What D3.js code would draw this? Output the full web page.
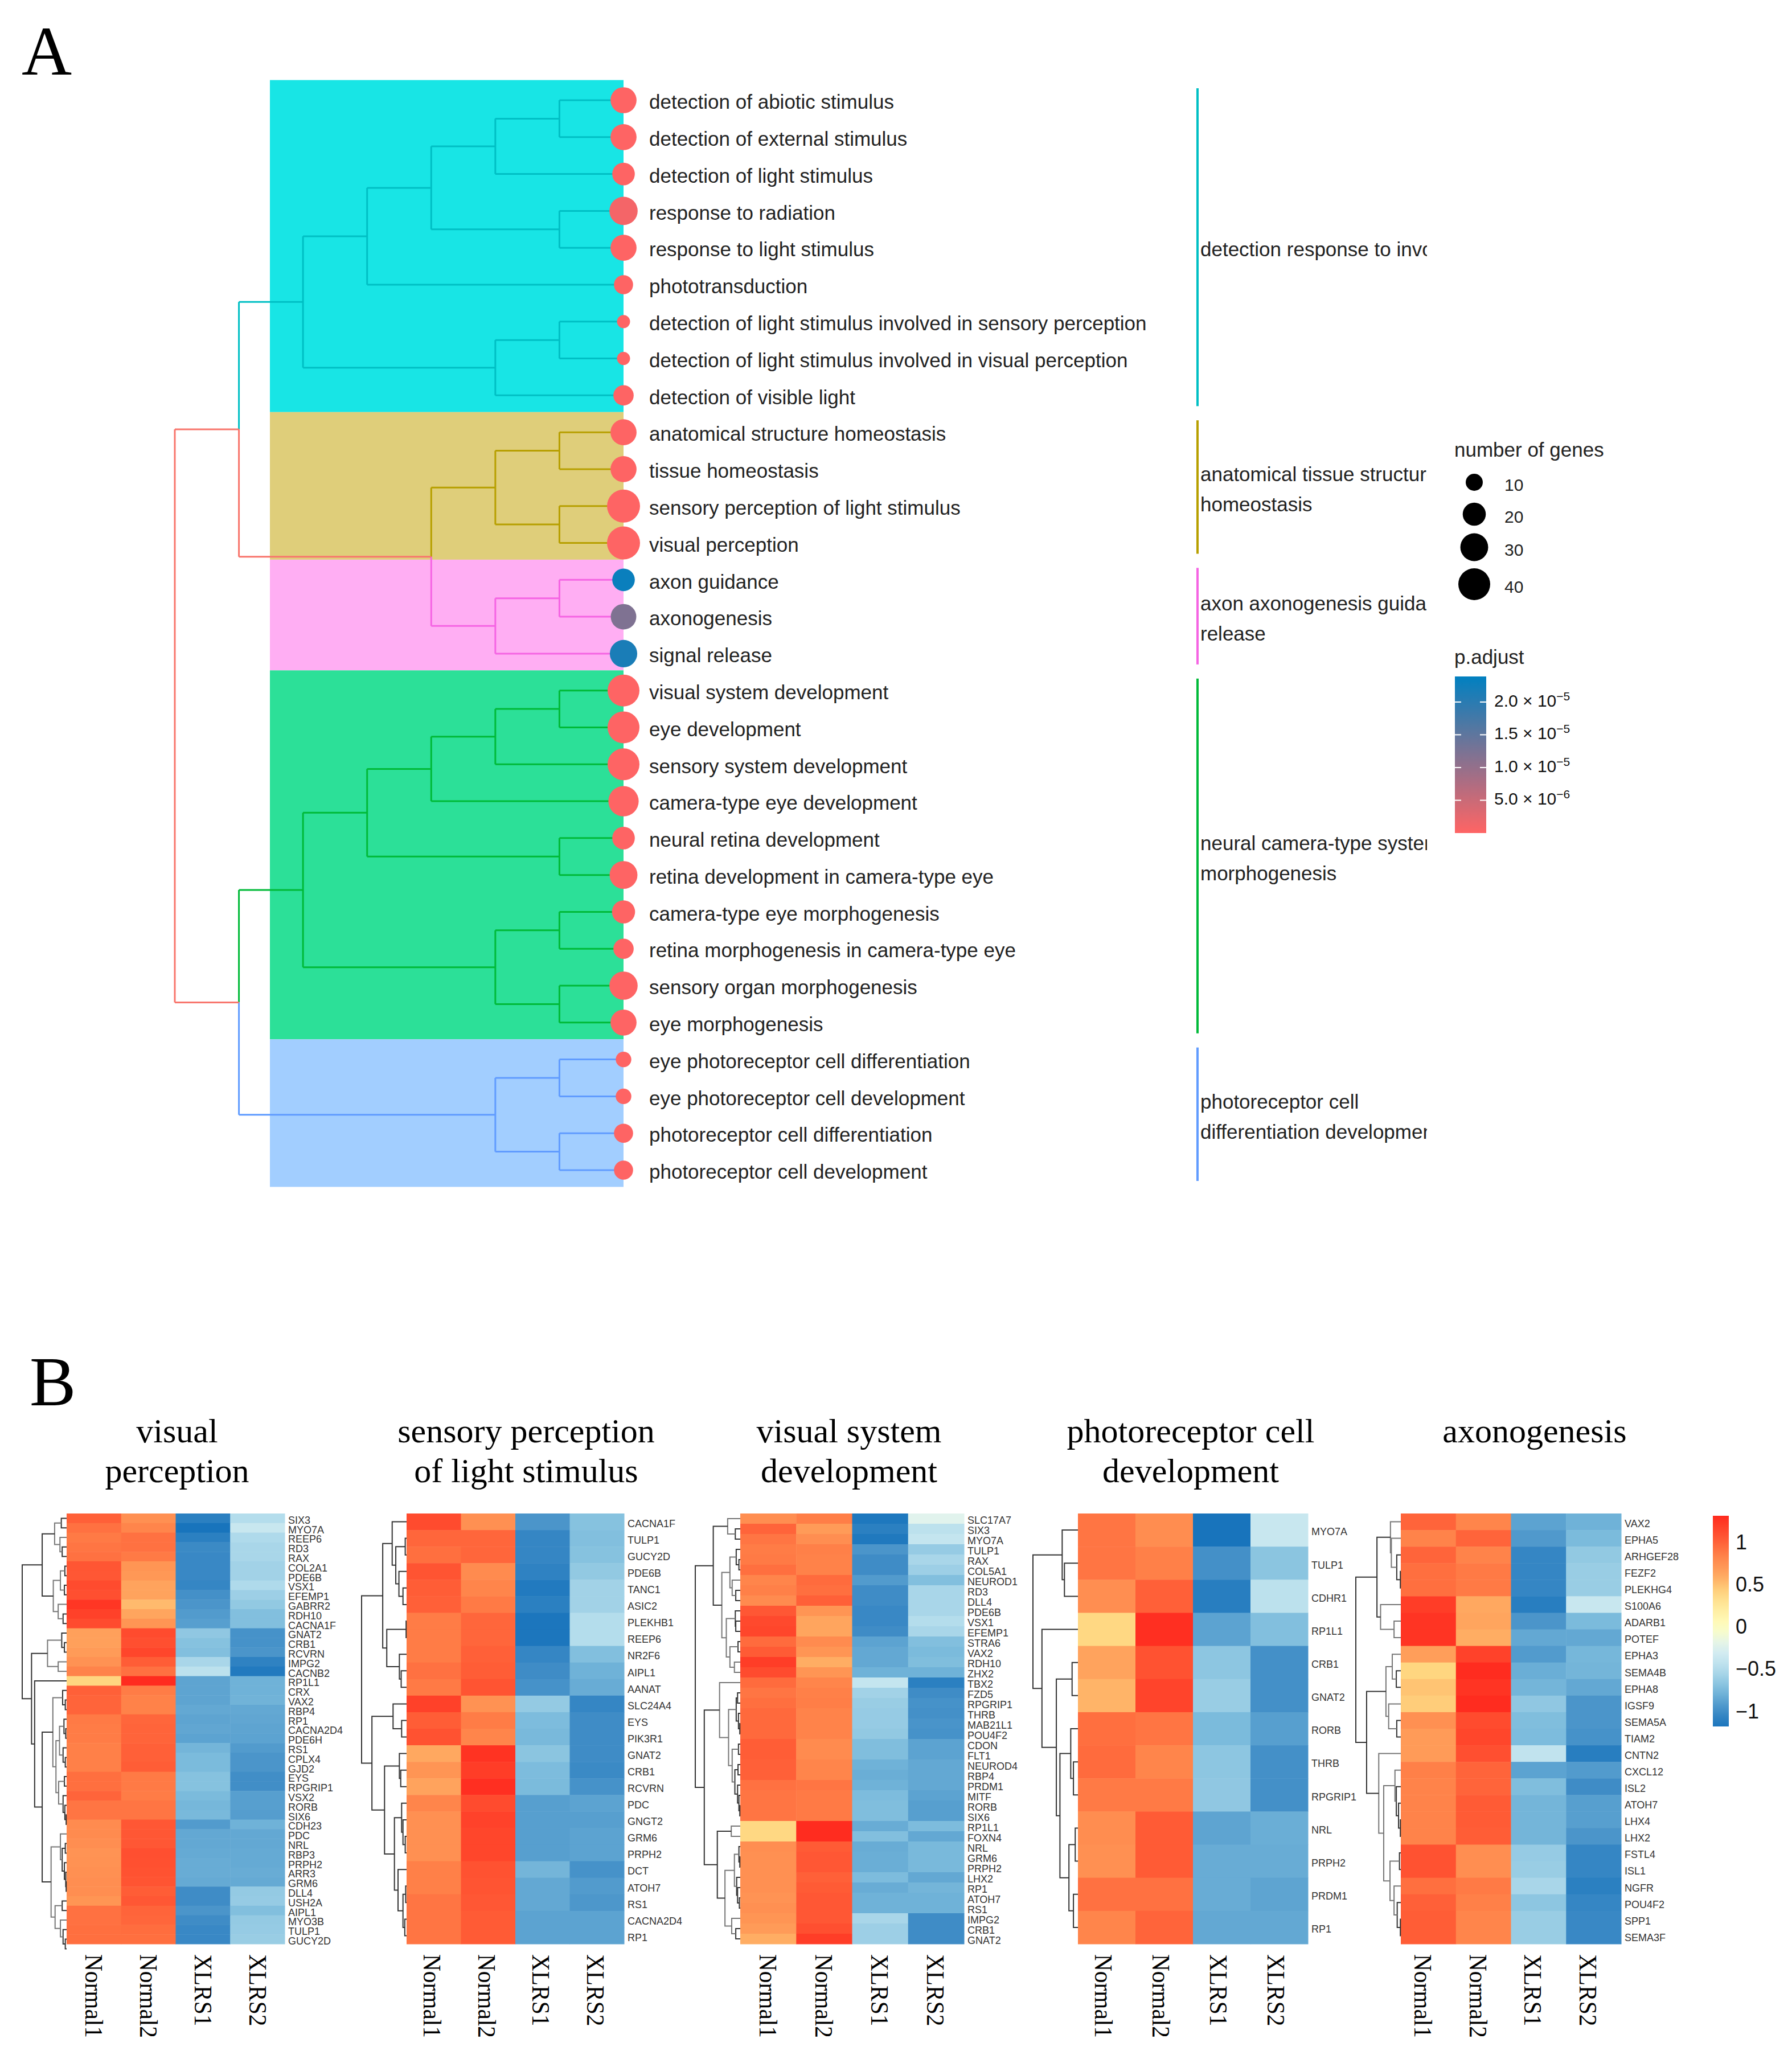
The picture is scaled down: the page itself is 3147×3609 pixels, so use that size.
<!DOCTYPE html>
<html><head><meta charset="utf-8">
<script src="https://cdn.jsdelivr.net/npm/d3@7"></script>
<style>html,body{margin:0;background:#fff}svg{display:block}</style></head><body>
<script>
// ---------- Panel A data ----------
const termLabels=["detection of abiotic stimulus","detection of external stimulus","detection of light stimulus","response to radiation","response to light stimulus","phototransduction","detection of light stimulus involved in sensory perception","detection of light stimulus involved in visual perception","detection of visible light","anatomical structure homeostasis","tissue homeostasis","sensory perception of light stimulus","visual perception","axon guidance","axonogenesis","signal release","visual system development","eye development","sensory system development","camera-type eye development","neural retina development","retina development in camera-type eye","camera-type eye morphogenesis","retina morphogenesis in camera-type eye","sensory organ morphogenesis","eye morphogenesis","eye photoreceptor cell differentiation","eye photoreceptor cell development","photoreceptor cell differentiation","photoreceptor cell development"];
const geneCounts=[26,26,19,31,26,13,5,5,15,26,26,43,43,19,25,29,40,40,40,36,19,30,20,15,31,26,8,8,13,13];
const pAdjust=[1e-7,1e-7,1e-7,1e-6,1e-7,1e-7,1e-7,1e-7,1e-7,1e-7,1e-7,1e-7,1e-7,2.3e-5,1.2e-5,2.15e-5,1e-7,1e-7,1e-7,1e-7,1e-7,1e-7,1e-7,1e-7,1e-7,1e-7,1e-7,1e-7,1e-7,1e-7];
const clusterRows=[[0,8],[9,12],[13,15],[16,25],[26,29]];
const clusterFill=["#18E5E5","#DFCE7A","#FFAEF3","#2CE098","#A2CEFF"];
const clusterLine=["#00BFC4","#B79F00","#F564E3","#00BA38","#619CFF"];
const clusterNames=[["detection response to involved"],["anatomical tissue structure","homeostasis"],["axon axonogenesis guidance","release"],["neural camera-type system","morphogenesis"],["photoreceptor cell","differentiation development"]];
const clusterTrees=[
 [5,[4,[3,[2,[1,0,0],0],[1,0,0]],0],[2,[1,0,0],0]],
 [2,[1,0,0],[1,0,0]],
 [2,[1,0,0],0],
 [5,[4,[3,[2,[1,0,0],0],0],[1,0,0]],[2,[1,0,0],[1,0,0]]],
 [2,[1,0,0],[1,0,0]]
];
const sizeTicks=[10,20,30,40];
const pTicks=[2e-5,1.5e-5,1e-5,5e-6];
const pTickLabels=[["2.0","−5"],["1.5","−5"],["1.0","−5"],["5.0","−6"]];

// ---------- Panel B data ----------
const sampleNames=["Normal1","Normal2","XLRS1","XLRS2"];
const panelTitles=[["visual","perception"],["sensory perception","of light stimulus"],["visual system","development"],["photoreceptor cell","development"],["axonogenesis"]];
const genes1=["SIX3","MYO7A","REEP6","RD3","RAX","COL2A1","PDE6B","VSX1","EFEMP1","GABRR2","RDH10","CACNA1F","GNAT2","CRB1","RCVRN","IMPG2","CACNB2","RP1L1","CRX","VAX2","RBP4","RP1","CACNA2D4","PDE6H","RS1","CPLX4","GJD2","EYS","RPGRIP1","VSX2","RORB","SIX6","CDH23","PDC","NRL","RBP3","PRPH2","ARR3","GRM6","DLL4","USH2A","AIPL1","MYO3B","TULP1","GUCY2D"];
const values1=[[1.0,.75,-1.1,-.5],[.92,.82,-1.2,-.38],[.88,.92,-1.1,-.52],[.9,.92,-1.02,-.55],[.92,.88,-1.03,-.55],[1.06,.72,-1.03,-.58],[1.05,.7,-1.03,-.58],[1.12,.63,-1.05,-.52],[1.1,.63,-.98,-.6],[1.24,.52,-.95,-.65],[1.18,.62,-.92,-.72],[1.12,.72,-.9,-.72],[.65,1.12,-.66,-.97],[.65,1.1,-.7,-.97],[.68,1.15,-.72,-.95],[.74,1.02,-.55,-1.08],[.83,.92,-.45,-1.15],[.4,1.3,-.87,-.8],[1.0,.87,-.87,-.8],[.98,.84,-.87,-.79],[.98,.84,-.85,-.85],[.88,.97,-.87,-.86],[.87,.98,-.86,-.87],[.87,.98,-.88,-.88],[.85,1.0,-.78,-.92],[.85,1.0,-.75,-.95],[.85,1.02,-.75,-.95],[.93,.88,-.7,-.99],[.93,.88,-.7,-.99],[.98,.87,-.75,-.9],[.9,.9,-.77,-.9],[.9,.9,-.76,-.91],[.78,1.05,-.92,-.8],[.78,1.05,-.85,-.85],[.76,1.05,-.85,-.85],[.73,1.1,-.84,-.84],[.74,1.09,-.83,-.84],[.75,1.08,-.83,-.83],[.76,1.07,-.84,-.84],[.76,1.02,-1.0,-.64],[.72,1.05,-1.0,-.63],[.92,.98,-.95,-.72],[.92,.97,-1.0,-.64],[.93,.94,-1.03,-.63],[.93,.93,-1.03,-.62]];
const tree1=[1,[.55,[.27,[.12,0,0],[.15,0,[.1,0,0]]],[.3,[.14,[.04,0,0],[.05,0,0]],[.19,0,[.08,0,0]]]],[.79,[.43,[.11,0,[.05,0,0]],[.19,0,0]],[.72,0,[.55,[.31,[.09,0,[.03,0,0]],[.24,[.16,[.06,0,[.02,0,0]],[.08,0,[.03,0,0]]],[.18,[.05,0,0],[.08,0,[.04,0,[.01,0,0]]]]]],[.35,[.14,0,[.1,[.03,0,0],[.05,0,[.02,0,[.01,0,0]]]]],[.26,[.1,0,0],[.14,0,[.08,0,[.03,0,0]]]]]]]]];
const genes2=["CACNA1F","TULP1","GUCY2D","PDE6B","TANC1","ASIC2","PLEKHB1","REEP6","NR2F6","AIPL1","AANAT","SLC24A4","EYS","PIK3R1","GNAT2","CRB1","RCVRN","PDC","GNGT2","GRM6","PRPH2","DCT","ATOH7","RS1","CACNA2D4","RP1"];
const values2=[[1.12,.75,-.95,-.7],[.97,.97,-1.05,-.72],[.93,.97,-1.05,-.7],[1.07,.78,-1.08,-.65],[1.02,.82,-1.15,-.58],[1.0,.88,-1.1,-.58],[.87,.97,-1.18,-.5],[.87,.97,-1.18,-.5],[.87,1.0,-1.05,-.72],[.92,1.02,-1.0,-.8],[.88,1.07,-.97,-.83],[1.18,.74,-.64,-1.05],[1.02,.87,-.74,-1.0],[1.08,.82,-.76,-1.0],[.6,1.26,-.68,-1.0],[.72,1.2,-.74,-1.02],[.63,1.28,-.75,-.97],[.82,1.12,-.9,-.88],[.75,1.17,-.9,-.9],[.75,1.15,-.9,-.88],[.75,1.15,-.9,-.88],[.85,1.08,-.78,-.97],[.85,1.07,-.85,-.92],[.9,1.05,-.85,-.94],[.9,1.03,-.88,-.88],[.9,1.03,-.88,-.88]];
const tree2=[1,[.53,[.32,0,[.24,[.03,0,0],[.17,0,[.08,0,0]]]],[.44,[.01,0,0],[.16,0,[.12,0,0]]]],[.77,[.3,0,[.11,0,0]],[.49,[.16,0,[.13,0,0]],[.27,[.11,0,[.08,0,[.03,0,0]]],[.19,0,[.08,[.02,0,0],[.04,0,0]]]]]]];
const genes3=["SLC17A7","SIX3","MYO7A","TULP1","RAX","COL5A1","NEUROD1","RD3","DLL4","PDE6B","VSX1","EFEMP1","STRA6","VAX2","RDH10","ZHX2","TBX2","FZD5","RPGRIP1","THRB","MAB21L1","POU4F2","CDON","FLT1","NEUROD4","RBP4","PRDM1","MITF","RORB","SIX6","RP1L1","FOXN4","NRL","GRM6","PRPH2","LHX2","RP1","ATOH7","RS1","IMPG2","CRB1","GNAT2"];
const values3=[[.76,.86,-1.17,-.22],[.98,.68,-1.1,-.45],[.9,.76,-1.16,-.4],[.87,.85,-.95,-.63],[.88,.84,-1.0,-.55],[.93,.84,-1.0,-.6],[.82,.95,-.92,-.72],[.85,.93,-1.0,-.55],[.78,1.0,-1.0,-.55],[1.05,.72,-1.03,-.55],[1.13,.62,-1.03,-.5],[1.15,.62,-1.0,-.55],[.95,.78,-.88,-.72],[1.03,.72,-.85,-.75],[1.2,.58,-.85,-.73],[1.12,.72,-.8,-.8],[.95,.82,-.4,-1.1],[.9,.85,-.58,-1.0],[.93,.86,-.62,-.97],[.96,.83,-.63,-.98],[.96,.83,-.63,-.96],[.96,.83,-.65,-.97],[1.02,.78,-.73,-.88],[1.02,.78,-.73,-.88],[1.0,.82,-.8,-.85],[1.0,.82,-.82,-.85],[.92,.9,-.8,-.85],[.9,.88,-.74,-.88],[.9,.88,-.73,-.9],[.9,.88,-.73,-.9],[.38,1.3,-.83,-.74],[.38,1.3,-.72,-.85],[.76,1.03,-.83,-.76],[.75,1.05,-.82,-.76],[.75,1.05,-.82,-.76],[.75,1.0,-.74,-.85],[.75,1.03,-.83,-.78],[.73,1.05,-.8,-.8],[.75,1.05,-.8,-.8],[.72,1.05,-.55,-1.0],[.68,1.1,-.6,-1.0],[.58,1.2,-.6,-1.0]];
const tree3=[1,[.6,[.28,0,[.11,0,0]],[.41,[.23,[.09,0,[.03,0,0]],[.18,0,[.1,0,0]]],[.31,[.11,0,[.1,0,0]],[.23,[.05,0,0],[.13,0,0]]]]],[.8,[.46,0,[.26,[.09,[.06,0,0],[.04,0,[.01,0,0]]],[.18,[.04,0,0],[.12,[.05,0,0],[.06,0,[.03,0,[.01,0,0]]]]]]],[.51,[.2,0,0],[.34,[.13,[.03,0,[.01,0,0]],[.08,0,[.06,0,[.02,0,0]]]],[.19,0,[.1,0,0]]]]]];
const genes4=["MYO7A","TULP1","CDHR1","RP1L1","CRB1","GNAT2","RORB","THRB","RPGRIP1","NRL","PRPH2","PRDM1","RP1"];
const values4=[[.9,.77,-1.2,-.38],[.9,.85,-.98,-.68],[.76,1.0,-1.12,-.45],[.38,1.28,-.88,-.72],[.63,1.08,-.67,-.98],[.55,1.16,-.62,-.98],[.93,.9,-.75,-.9],[.95,.82,-.67,-.98],[.88,.88,-.66,-.98],[.77,1.03,-.87,-.82],[.75,1.03,-.83,-.83],[.92,.92,-.83,-.87],[.82,.98,-.85,-.85]];
const tree4=[1,[.35,0,[.3,0,0]],[.8,0,[.48,[.13,0,0],[.4,[.16,0,[.1,0,0]],[.2,[.06,0,0],[.1,0,0]]]]]];
const genes5=["VAX2","EPHA5","ARHGEF28","FEZF2","PLEKHG4","S100A6","ADARB1","POTEF","EPHA3","SEMA4B","EPHA8","IGSF9","SEMA5A","TIAM2","CNTN2","CXCL12","ISL2","ATOH7","LHX4","LHX2","FSTL4","ISL1","NGFR","POU4F2","SPP1","SEMA3F"];
const values5=[[.98,.82,-.88,-.8],[.83,.98,-.93,-.75],[.98,.83,-1.05,-.65],[.93,.88,-1.05,-.62],[.93,.88,-1.05,-.62],[1.2,.6,-1.12,-.38],[1.25,.62,-.95,-.75],[1.25,.58,-.85,-.85],[.66,1.17,-.92,-.77],[.4,1.3,-.82,-.78],[.48,1.25,-.78,-.85],[.44,1.3,-.66,-.95],[.75,1.12,-.73,-.95],[.68,1.15,-.74,-.97],[.68,1.1,-.42,-1.12],[.85,.98,-.88,-.92],[.83,.98,-.73,-1.0],[.83,1.03,-.78,-.9],[.83,1.03,-.78,-.9],[.83,1.02,-.78,-.95],[1.08,.76,-.63,-1.05],[1.08,.76,-.62,-1.05],[.93,.88,-.55,-1.1],[1.0,.85,-.67,-1.05],[1.02,.82,-.62,-1.03],[1.02,.82,-.62,-1.03]];
const tree5=[1,[.53,[.23,0,[.21,0,[.09,0,[.01,0,0]]]],[.45,0,[.15,0,0]]],[.76,[.33,[.19,0,[.1,0,0]],[.27,0,[.09,0,0]]],[.49,0,[.38,[.13,0,[.1,0,[.05,0,[.01,0,0]]]],[.24,[.03,0,0],[.15,0,[.08,0,[.01,0,0]]]]]]]];
const heatTicks=[1,.5,0,-.5,-1];
const heatStops=[[-1.2,"#1874BC"],[-1,"#3F8CC6"],[-.75,"#7BBBDC"],[-.5,"#B4DDEC"],[-.25,"#DDF1F3"],[0,"#FFFFC0"],[.25,"#FFE89A"],[.4,"#FFD680"],[.6,"#FFA860"],[.85,"#FF8048"],[1,"#FF6038"],[1.31,"#FF2A1E"]];

// ---------- Drawing ----------
const W=3147,H=3609,SANS="'Liberation Sans',Arial,sans-serif",SERIF="'Liberation Serif','Times New Roman',serif";
const svg=d3.select("body").append("svg").attr("width",W).attr("height",H).attr("viewBox",[0,0,W,H]);
const defs=svg.append("defs");
svg.append("rect").attr("width",W).attr("height",H).attr("fill","#fff");
const letter=(t,x,y)=>svg.append("text").attr("x",x).attr("y",y).attr("font-family",SERIF).attr("font-size",122).attr("fill","#000").text(t);
letter("A",38,131);letter("B",52,2468);

// Panel A
const yRow=d3.scaleLinear().domain([0,29]).range([176,2055]);
const xLevel=d3.scaleLinear().domain([0,7]).range([1095,307]);
const rScale=d3.scaleRadial().domain([10,40]).range([15,28]);
const pMax=2.39e-5;
const pColor=d3.scaleLinear().domain([0,pMax]).range(["#FF6464","#0080C0"]);
const panelA=svg.append("g");
panelA.selectAll("rect.band").data(clusterRows).join("rect").attr("class","band")
 .attr("x",xLevel(7)+167).attr("width",xLevel(0)-xLevel(7)-167)
 .attr("y",d=>yRow(d[0]-.5)-3).attr("height",d=>yRow(d[1]+.5)-yRow(d[0]-.5))
 .attr("fill",(d,i)=>clusterFill[i]);
const treeLines=panelA.append("g").attr("fill","none").attr("stroke-width",3);
function seg(x1,y1,x2,y2,c,sw){treeLines.append("line").attr("x1",x1).attr("y1",y1).attr("x2",x2).attr("y2",y2).attr("stroke",c).attr("stroke-width",sw||3);}
function hline(l1,l2,r,c){seg(xLevel(l1),yRow(r),xLevel(l2),yRow(r),c);}
function vline(l,r1,r2,c){seg(xLevel(l),yRow(r1),xLevel(l),yRow(r2),c);}
const clusterRoot=clusterTrees.map((t,i)=>{
 let leaf=clusterRows[i][0];const c=clusterLine[i];
 const walk=n=>{if(n===0)return{y:leaf++,l:0};const a=walk(n[1]),b=walk(n[2]),l=n[0];
  hline(a.l,l,a.y,c);hline(b.l,l,b.y,c);vline(l,a.y,b.y,c);return{y:(a.y+b.y)/2,l};};
 return walk(t);
});
const SALMON="#F8766D";
const mid23=(clusterRoot[1].y+clusterRoot[2].y)/2;
hline(clusterRoot[1].l,3,clusterRoot[1].y,clusterLine[1]);hline(clusterRoot[2].l,3,clusterRoot[2].y,clusterLine[2]);
vline(3,clusterRoot[1].y,mid23,clusterLine[1]);vline(3,mid23,clusterRoot[2].y,clusterLine[2]);
hline(3,6,mid23,SALMON);
hline(clusterRoot[0].l,6,clusterRoot[0].y,clusterLine[0]);
const upY=(clusterRoot[0].y+mid23)/2;
vline(6,clusterRoot[0].y,upY,clusterLine[0]);vline(6,upY,mid23,SALMON);
hline(clusterRoot[3].l,6,clusterRoot[3].y,clusterLine[3]);hline(clusterRoot[4].l,6,clusterRoot[4].y,clusterLine[4]);
const loY=(clusterRoot[3].y+clusterRoot[4].y)/2;
vline(6,clusterRoot[3].y,loY,clusterLine[3]);vline(6,loY,clusterRoot[4].y,clusterLine[4]);
hline(6,7,upY,SALMON);hline(6,7,loY,SALMON);vline(7,upY,loY,SALMON);

panelA.selectAll("circle.term").data(termLabels).join("circle").attr("class","term")
 .attr("cx",xLevel(0)).attr("cy",(d,i)=>yRow(i)).attr("r",(d,i)=>rScale(geneCounts[i]))
 .attr("fill",(d,i)=>pColor(pAdjust[i]));
panelA.selectAll("text.term").data(termLabels).join("text").attr("class","term")
 .attr("x",1140).attr("y",(d,i)=>yRow(i)+3).attr("dy",".35em").attr("font-family",SANS).attr("font-size",35).attr("fill","#222").text(d=>d);
panelA.selectAll("line.bar").data(clusterRows).join("line").attr("class","bar")
 .attr("x1",2103).attr("x2",2103).attr("y1",d=>yRow(d[0])-21).attr("y2",d=>yRow(d[1])+19)
 .attr("stroke",(d,i)=>clusterLine[i]).attr("stroke-width",4);
defs.append("clipPath").attr("id","clusterClip").append("rect").attr("x",2100).attr("y",100).attr("width",406).attr("height",2100);
const clusterText=panelA.append("g").attr("clip-path","url(#clusterClip)");
clusterNames.forEach((ls,i)=>{
 const m=(clusterRows[i][0]+clusterRows[i][1])/2;
 ls.forEach((t,k)=>clusterText.append("text").attr("x",2108).attr("y",yRow(m)+3+(k-(ls.length-1)/2)*53).attr("dy",".35em")
  .attr("font-family",SANS).attr("font-size",35).attr("fill","#222").text(t));
});

// legends
const lg=svg.append("g").attr("font-family",SANS);
lg.append("text").attr("x",2554).attr("y",802).attr("font-size",35).attr("fill","#222").text("number of genes");
const sizeY=[847,903,961,1026];
lg.selectAll("circle").data(sizeTicks).join("circle").attr("cx",2589).attr("cy",(d,i)=>sizeY[i]).attr("r",d=>rScale(d)).attr("fill","#000");
lg.selectAll("text.s").data(sizeTicks).join("text").attr("class","s").attr("x",2642).attr("y",(d,i)=>sizeY[i]+4).attr("dy",".35em").attr("font-size",30).attr("fill","#222").text(d=>d);
lg.append("text").attr("x",2554).attr("y",1166).attr("font-size",35).attr("fill","#222").text("p.adjust");
const yP=d3.scaleLinear().domain([0,pMax]).range([1463,1188]);
const gp=defs.append("linearGradient").attr("id","gp").attr("x1",0).attr("x2",0).attr("y1",1).attr("y2",0);
d3.range(0,1.001,.1).forEach(t=>gp.append("stop").attr("offset",t).attr("stop-color",pColor(t*pMax)));
lg.append("rect").attr("x",2555).attr("y",yP(pMax)).attr("width",55).attr("height",yP(0)-yP(pMax)).attr("fill","url(#gp)");
pTicks.forEach((v,i)=>{
 lg.append("line").attr("x1",2555).attr("x2",2566).attr("y1",yP(v)).attr("y2",yP(v)).attr("stroke","#fff").attr("stroke-width",2);
 lg.append("line").attr("x1",2599).attr("x2",2610).attr("y1",yP(v)).attr("y2",yP(v)).attr("stroke","#fff").attr("stroke-width",2);
 const t=lg.append("text").attr("x",2624).attr("y",yP(v)+8).attr("font-size",30).attr("fill","#111");
 t.append("tspan").text(pTickLabels[i][0]+" × 10");
 t.append("tspan").attr("dy",-11).attr("font-size",21).text(pTickLabels[i][1]);
});

// Panel B
const heatColor=d3.scaleLinear().domain(heatStops.map(d=>d[0])).range(heatStops.map(d=>d[1]));
const panels=[
 {genes:genes1,values:values1,tree:tree1,x0:117,x1:500,root:39,cx:311,labelShift:1},
 {genes:genes2,values:values2,tree:tree2,x0:714,x1:1096,root:635,cx:924,labelShift:-2},
 {genes:genes3,values:values3,tree:tree3,x0:1300,x1:1693,root:1221,cx:1491,labelShift:0},
 {genes:genes4,values:values4,tree:tree4,x0:1893,x1:2297,root:1814,cx:2091,labelShift:-5},
 {genes:genes5,values:values5,tree:tree5,x0:2460,x1:2847,root:2381,cx:2695,labelShift:-9}
];
const heatTop=2658,heatBottom=3414;
panels.forEach((p,pi)=>{
 const g=svg.append("g");
 const xB=d3.scaleBand().domain(sampleNames).range([p.x0,p.x1]);
 const yB=d3.scaleBand().domain(d3.range(p.genes.length)).range([heatTop,heatBottom]);
 p.genes.forEach((name,r)=>{
  g.selectAll(null).data(p.values[r]).join("rect")
   .attr("x",(d,c)=>xB(sampleNames[c])).attr("y",yB(r)).attr("width",xB.bandwidth()+.5).attr("height",yB.bandwidth()+.5)
   .attr("fill",d=>heatColor(d));
 });
 g.selectAll("text.gene").data(p.genes).join("text").attr("class","gene")
  .attr("x",p.x1+6).attr("y",(d,i)=>yB(i)+yB.bandwidth()/2+3).attr("dy",".35em")
  .attr("font-family",SANS).attr("font-size",18).attr("fill","#333").text(d=>d);
 g.selectAll("text.sample").data(sampleNames).join("text").attr("class","sample")
  .attr("transform",d=>`translate(${xB(d)+xB.bandwidth()/2+p.labelShift},3432) rotate(90) scale(.94,1)`)
  .attr("dy",".35em").attr("font-family",SERIF).attr("font-size",44).attr("fill","#000").text(d=>d);
 const xH=d3.scaleLinear().domain([0,1]).range([p.x0,p.root]);
 const rowY=i=>yB(0)+yB.step()*(i+.5);
 let leaf=0;const dl=g.append("g").attr("fill","none").attr("stroke","#333").attr("stroke-width",2);
 const walk=n=>{if(n===0)return{y:leaf++,h:0};const a=walk(n[1]),b=walk(n[2]),h=n[0];
  const y=(a.y+b.y)/2;
  dl.append("path").attr("d",`M${xH(a.h)},${rowY(a.y)}H${xH(h)}V${rowY(b.y)}H${xH(b.h)}`).attr("stroke",h<.5&&h>.12&&pi%2==0?"#777":"#333");
  return{y,h};};
 walk(p.tree);
 const titles=panelTitles[pi];
 const ty=titles.length==1?[2533]:[2533,2603];
 titles.forEach((t,k)=>svg.append("text").attr("x",p.cx).attr("y",ty[k]).attr("text-anchor","middle").attr("font-family",SERIF).attr("font-size",60).attr("fill","#000").text(t));
});
// heat colorbar
const yHeat=d3.scaleLinear().domain([-1,1]).range([3005,2708]);
const gh=defs.append("linearGradient").attr("id","gh").attr("x1",0).attr("x2",0).attr("y1",1).attr("y2",0);
const hMin=yHeat.invert(3032),hMax=yHeat.invert(2662);
d3.range(0,1.001,.05).forEach(t=>gh.append("stop").attr("offset",t).attr("stop-color",heatColor(hMin+t*(hMax-hMin))));
svg.append("rect").attr("x",3008).attr("y",2662).attr("width",28).attr("height",370).attr("fill","url(#gh)");
svg.selectAll("text.ht").data(heatTicks).join("text").attr("class","ht").attr("x",3048).attr("y",d=>yHeat(d)).attr("dy",".35em")
 .attr("font-family",SANS).attr("font-size",36).attr("fill","#111").text(d=>d<0?"−"+Math.abs(d):d);
</script></body></html>
